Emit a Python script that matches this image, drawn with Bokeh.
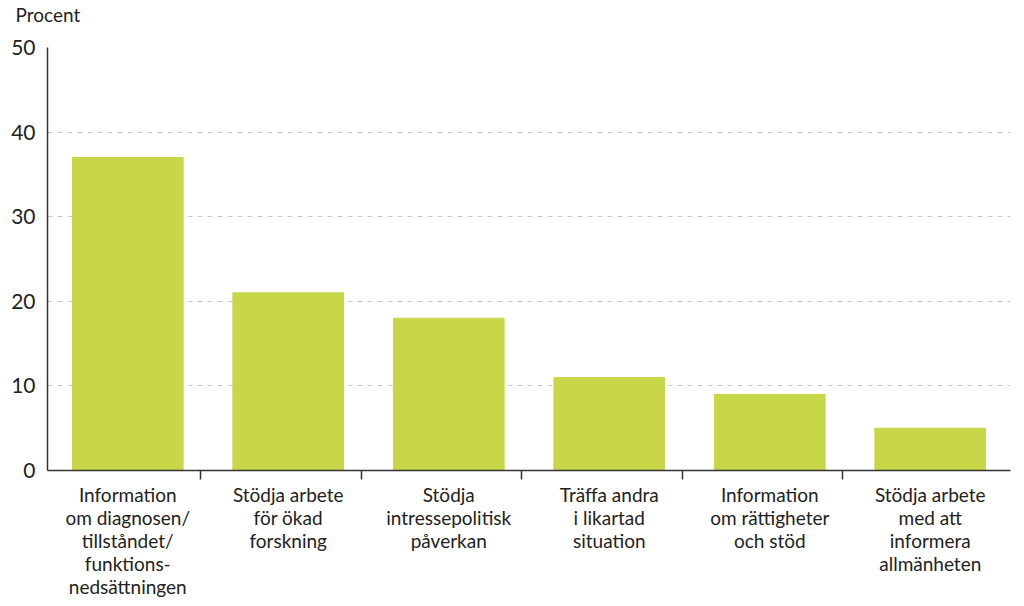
from bokeh.plotting import figure
from bokeh.models import Range1d, FixedTicker, ColumnDataSource
from bokeh.embed import file_html
from bokeh.resources import INLINE

categories = [
    "Information\nom diagnosen/\ntillståndet/\nfunktions-\nnedsättningen",
    "Stödja arbete\nför ökad\nforskning",
    "Stödja\nintressepolitisk\npåverkan",
    "Träffa andra\ni likartad\nsituation",
    "Information\nom rättigheter\noch stöd",
    "Stödja arbete\nmed att\ninformera\nallmänheten",
]
values = [37, 21, 18, 11, 9, 5]
y_ticks = [0, 10, 20, 30, 40, 50]
unit_label = "Procent"

FONT = "Lato"
xs = [i + 0.5 for i in range(len(categories))]
src = ColumnDataSource(dict(x=xs, top=values))

p = figure(width=1016, height=600, output_backend="svg", toolbar_location=None,
           x_range=Range1d(0, len(categories)), y_range=Range1d(0, 50),
           min_border_left=47, min_border_right=6, min_border_bottom=128, min_border_top=47)

p.title.text = unit_label + "\n"
p.title.text_font = FONT
p.title.text_font_size = "19px"
p.title.text_font_style = "normal"
p.title.text_color = "#222222"
p.title.text_line_height = 0.92
p.title.offset = -32
p.title.standoff = 0

p.vbar(x="x", top="top", width=0.69, bottom=0, source=src, color="#c8d64a")

p.outline_line_color = None
p.xgrid.grid_line_color = None
p.ygrid.grid_line_color = "#c8c8c8"
p.ygrid.grid_line_dash = "5 5"
p.ygrid.grid_line_width = 1

p.yaxis.ticker = FixedTicker(ticks=y_ticks)
p.yaxis.axis_line_color = "#333333"
p.yaxis.axis_line_width = 1.5
p.yaxis.major_tick_line_color = None
p.yaxis.minor_tick_line_color = None
p.yaxis.major_label_text_font = FONT
p.yaxis.major_label_text_font_size = "21px"
p.yaxis.major_label_text_color = "#222222"
p.yaxis.major_label_standoff = 6

p.xaxis.ticker = FixedTicker(ticks=xs, minor_ticks=[i - 0.045 for i in range(1, len(categories))])
p.xaxis.major_label_overrides = {x: c for x, c in zip(xs, categories)}
p.xaxis.axis_line_color = "#333333"
p.xaxis.axis_line_width = 1.5
p.xaxis.major_tick_line_color = None
p.xaxis.minor_tick_line_color = "#333333"
p.xaxis.minor_tick_line_width = 1.5
p.xaxis.minor_tick_out = 9
p.xaxis.minor_tick_in = 0
p.xaxis.major_label_text_font = FONT
p.xaxis.major_label_text_font_size = "19px"
p.xaxis.major_label_text_color = "#222222"
p.xaxis.major_label_standoff = 3
p.xaxis.major_label_text_line_height = 1.0

open("out.html", "w").write(file_html(p, INLINE))
